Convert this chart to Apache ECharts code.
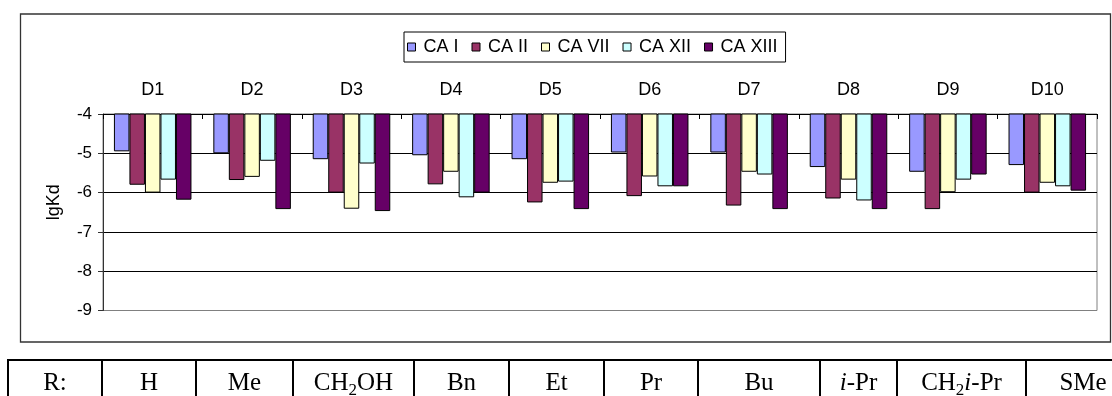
<!DOCTYPE html>
<html>
<head>
<meta charset="utf-8">
<script src="https://cdn.jsdelivr.net/npm/echarts@6/dist/echarts.min.js"></script>
<style>
  html, body { margin: 0; padding: 0; background: #fff; }
  #wrap { position: relative; width: 1112px; height: 396px; overflow: hidden; background: #fff; }
  #chart { position: absolute; left: 0; top: 0; width: 1112px; height: 396px; }
  #rtable { position: absolute; left: 0; top: 0; width: 1112px; height: 396px; pointer-events: none; }
  .cell { position: absolute; top: 359px; height: 60px; box-sizing: border-box;
          border-top: 2px solid #000; border-left: 2px solid #000;
          font-family: "Liberation Serif", "Times New Roman", serif; font-size: 25px;
          line-height: 30px; padding-top: 6px; text-align: center; color: #000; white-space: nowrap; }
  .cell sub { font-size: 17px; line-height: 0; vertical-align: -5px; }
</style>
</head>
<body>
<div id="wrap">
  <div id="chart"></div>
  <div id="rtable"></div>
</div>
<script>
// ---- data ----
const categories = ['D1','D2','D3','D4','D5','D6','D7','D8','D9','D10'];
const seriesNames = ['CA I','CA II','CA VII','CA XII','CA XIII'];
const caI    = [-4.95, -5.00, -5.15, -5.05, -5.15, -4.98, -4.98, -5.35, -5.47, -5.30];
const caII   = [-5.80, -5.68, -6.00, -5.79, -6.25, -6.09, -6.33, -6.15, -6.42, -6.00];
const caVII  = [-6.00, -5.60, -6.41, -5.47, -5.75, -5.59, -5.47, -5.67, -5.99, -5.75];
const caXII  = [-5.67, -5.19, -5.26, -6.12, -5.72, -5.84, -5.54, -6.20, -5.67, -5.84];
const caXIII = [-6.18, -6.42, -6.47, -6.00, -6.42, -5.84, -6.42, -6.42, -5.54, -5.95];
const yTicks = { min: -9, max: -4, interval: 1 };
const rowLabels = ['R:', 'H', 'Me', 'CH<sub>2</sub>OH', 'Bn', 'Et', 'Pr', 'Bu', '<i>i</i>-Pr', 'CH<sub>2</sub><i>i</i>-Pr', 'SMe'];

// ---- styles ----
const colors = ['#9999FF', '#993366', '#FFFFCC', '#CCFFFF', '#660066'];
const seriesData = [caI, caII, caVII, caXII, caXIII];
const font = '"Liberation Sans", Arial, sans-serif';

const chart = echarts.init(document.getElementById('chart'), null, { renderer: 'canvas' });
chart.setOption({
  animation: false,
  backgroundColor: '#fff',
  textStyle: { fontFamily: font, color: '#000' },
  graphic: [{
    type: 'rect', shape: { x: 20.5, y: 14, width: 1090, height: 328 },
    style: { fill: 'none', stroke: '#333', lineWidth: 1.3 }, z: 0, silent: true
  }],
  legend: {
    left: 404, top: 32,
    orient: 'horizontal',
    icon: 'path://M0,0H10V10H0Z',
    itemWidth: 14, itemHeight: 8, itemGap: 13,
    padding: [6, 8, 6, 3],
    borderColor: '#000', borderWidth: 1,
    itemStyle: { borderColor: '#000', borderWidth: 1 },
    textStyle: { fontSize: 18, fontFamily: font, color: '#000' },
    data: seriesNames
  },
  grid: {
    left: 103, top: 114, width: 994, height: 196.5,
    show: true, borderColor: '#808080', borderWidth: 1, backgroundColor: '#fff'
  },
  xAxis: {
    type: 'category', position: 'top', data: categories,
    axisLine: { show: true, lineStyle: { color: '#000', width: 1 } },
    axisTick: { show: true, inside: true, length: 5, lineStyle: { color: '#000' } },
    axisLabel: { fontSize: 18, color: '#000', margin: 15, fontFamily: font },
    splitLine: { show: false }
  },
  yAxis: {
    type: 'value', min: yTicks.min, max: yTicks.max, interval: yTicks.interval,
    name: 'lgKd', nameLocation: 'middle', nameGap: 40,
    nameTextStyle: { fontSize: 18, color: '#000', fontFamily: font, padding: [0, 0, 0, 20] },
    axisLine: { show: true, lineStyle: { color: '#333', width: 1 } },
    axisTick: { show: true, inside: false, length: 5, lineStyle: { color: '#333' } },
    axisLabel: { fontSize: 17, color: '#000', margin: 11, fontFamily: font },
    splitLine: { show: true, showMinLine: false, showMaxLine: false, lineStyle: { color: '#000', width: 1 } }
  },
  series: seriesNames.map((name, i) => ({
    name: name,
    type: 'bar',
    data: seriesData[i],
    clip: true,
    barGap: '0%',
    barCategoryGap: '22%',
    itemStyle: { color: colors[i], borderColor: '#000', borderWidth: 1 }
  }))
});

// ---- R table (real text) ----
const colLines = [8, 102, 196, 293, 414, 509, 604, 698, 820, 897, 1026, 1140];
const tbl = document.getElementById('rtable');
rowLabels.forEach((lab, i) => {
  const d = document.createElement('div');
  d.className = 'cell';
  d.style.left = (colLines[i] - 1) + 'px';
  d.style.width = (colLines[i + 1] - colLines[i]) + 'px';
  d.innerHTML = lab;
  tbl.appendChild(d);
});
</script>
</body>
</html>
